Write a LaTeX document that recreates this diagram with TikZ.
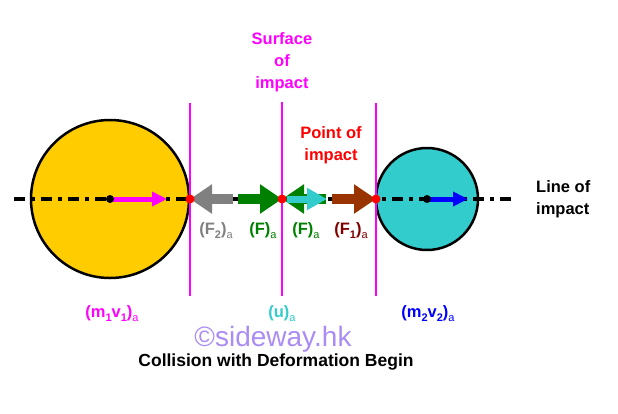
\documentclass[tikz,border=0pt]{standalone}
\usepackage{fontspec}
\setmainfont{Liberation Sans}
\usepackage{xcolor}
\usetikzlibrary{arrows.meta,positioning}
\definecolor{ballyellow}{RGB}{255,204,0}
\definecolor{ballcyan}{RGB}{51,204,204}
\definecolor{impactmagenta}{RGB}{255,0,255}
\definecolor{forcegreen}{RGB}{0,128,0}
\definecolor{forcegray}{RGB}{128,128,128}
\definecolor{forcebrown}{RGB}{153,51,0}
\definecolor{labelmaroon}{RGB}{128,0,0}
\definecolor{markpurple}{RGB}{170,140,245}
\newcommand{\lowidx}[1]{\raisebox{-0.45ex}{\fontsize{11}{11}\selectfont #1}}
\newcommand{\lowa}{\raisebox{-0.45ex}{\fontsize{11}{11}\selectfont\mdseries a}}

\begin{document}
\begin{tikzpicture}[x=1pt,y=-1pt]
		\tikzstyle{every node}=[font=\fontsize{16.5}{22}\selectfont\bfseries, inner sep=0pt]
		\tikzstyle{ball}=[draw=black, line width=2.5pt]
		\tikzstyle{impact}=[draw=impactmagenta, line width=2pt]
		\tikzstyle{force}=[line width=10pt, -{Triangle[length=22pt,width=28pt]}]
		\tikzstyle{velocity}=[line width=5pt, -{Triangle[length=15pt,width=14pt]}]
		\useasboundingbox (0,0) rectangle (618,413);
		% centres, contact points and ends
		\coordinate (c1) at (110,199);
		\coordinate (c2) at (427,199);
		\coordinate (p1) at (190,199);
		\coordinate (s) at (282,199);
		\coordinate (p2) at (376,199);
		\coordinate (l0) at (14,199);
		\coordinate (l1) at (512,199);
		\coordinate (v1) at (167,199);
		\coordinate (v2) at (468,199);
		% balls
		\draw [ball, fill=ballyellow] (c1) circle (79pt);
		\draw [ball, fill=ballcyan] (c2) circle (51pt);
		\draw [line width=3.5pt, dash pattern=on 11pt off 6pt on 4pt off 6pt] (l0) -- (l1);
		\draw [impact] (p1) ++(0,-96) -- ++(0,193);
		\draw [impact] (s) ++(0,-97) -- ++(0,194);
		\draw [impact] (p2) ++(0,-96) -- ++(0,193);
		\draw [velocity, impactmagenta] (c1) -- (v1);
		\draw [velocity, blue] (c2) -- (v2);
		\fill (c1) circle (4pt);
		\fill (c2) circle (4pt);
		% forces
		\coordinate (f2s) at (233,199);
		\coordinate (fls) at (238,199);
		\coordinate (frs) at (326,199);
		\coordinate (us) at (287,199);
		\coordinate (ue) at (327,199);
		\coordinate (f1s) at (332,199);
		\draw [force, forcegray] (f2s) -- (p1);
		\draw [force, forcegreen] (fls) -- (s);
		\draw [force, forcegreen] (frs) -- (s);
		\draw [ballcyan, line width=7pt, -{Triangle[length=20pt,width=21pt]}] (us) -- (ue);
		\draw [force, forcebrown] (f1s) -- (p2);
		\fill [red] (p1) circle (4.5pt);
		\fill [red] (s) circle (4.5pt);
		\fill [red] (p2) circle (4.5pt);
		% labels
		\node [impactmagenta, align=center] (surface) at (282,62) {Surface\\of\\impact};
		\node [red, align=center] (point) at (331,145) {Point of\\impact};
		\node [align=left, right=24pt of l1] (lineimp) {Line of\\impact};
		\node [forcegray] (f2) at (216,231) {(F\lowidx{2})\lowa};
		\node [forcegreen] (fl) at (263,231) {(F)\lowa};
		\node [forcegreen] (fr) at (306,231) {(F)\lowa};
		\node [labelmaroon] (f1) at (351,231) {(F\lowidx{1})\lowa};
		\node [impactmagenta] (mv1) at (112,314) {(m\lowidx{1}v\lowidx{1})\lowa};
		\node [ballcyan] (u) at (282,314) {(u)\lowa};
		\node [blue] (mv2) at (428,314) {(m\lowidx{2}v\lowidx{2})\lowa};
		\node [markpurple, font=\fontsize{28}{30}\selectfont] (mark) at (273,339) {©sideway.hk};
		\node [font=\fontsize{17.5}{20}\selectfont\bfseries] (title) at (276,362) {Collision with Deformation Begin};
\end{tikzpicture}
\end{document}
